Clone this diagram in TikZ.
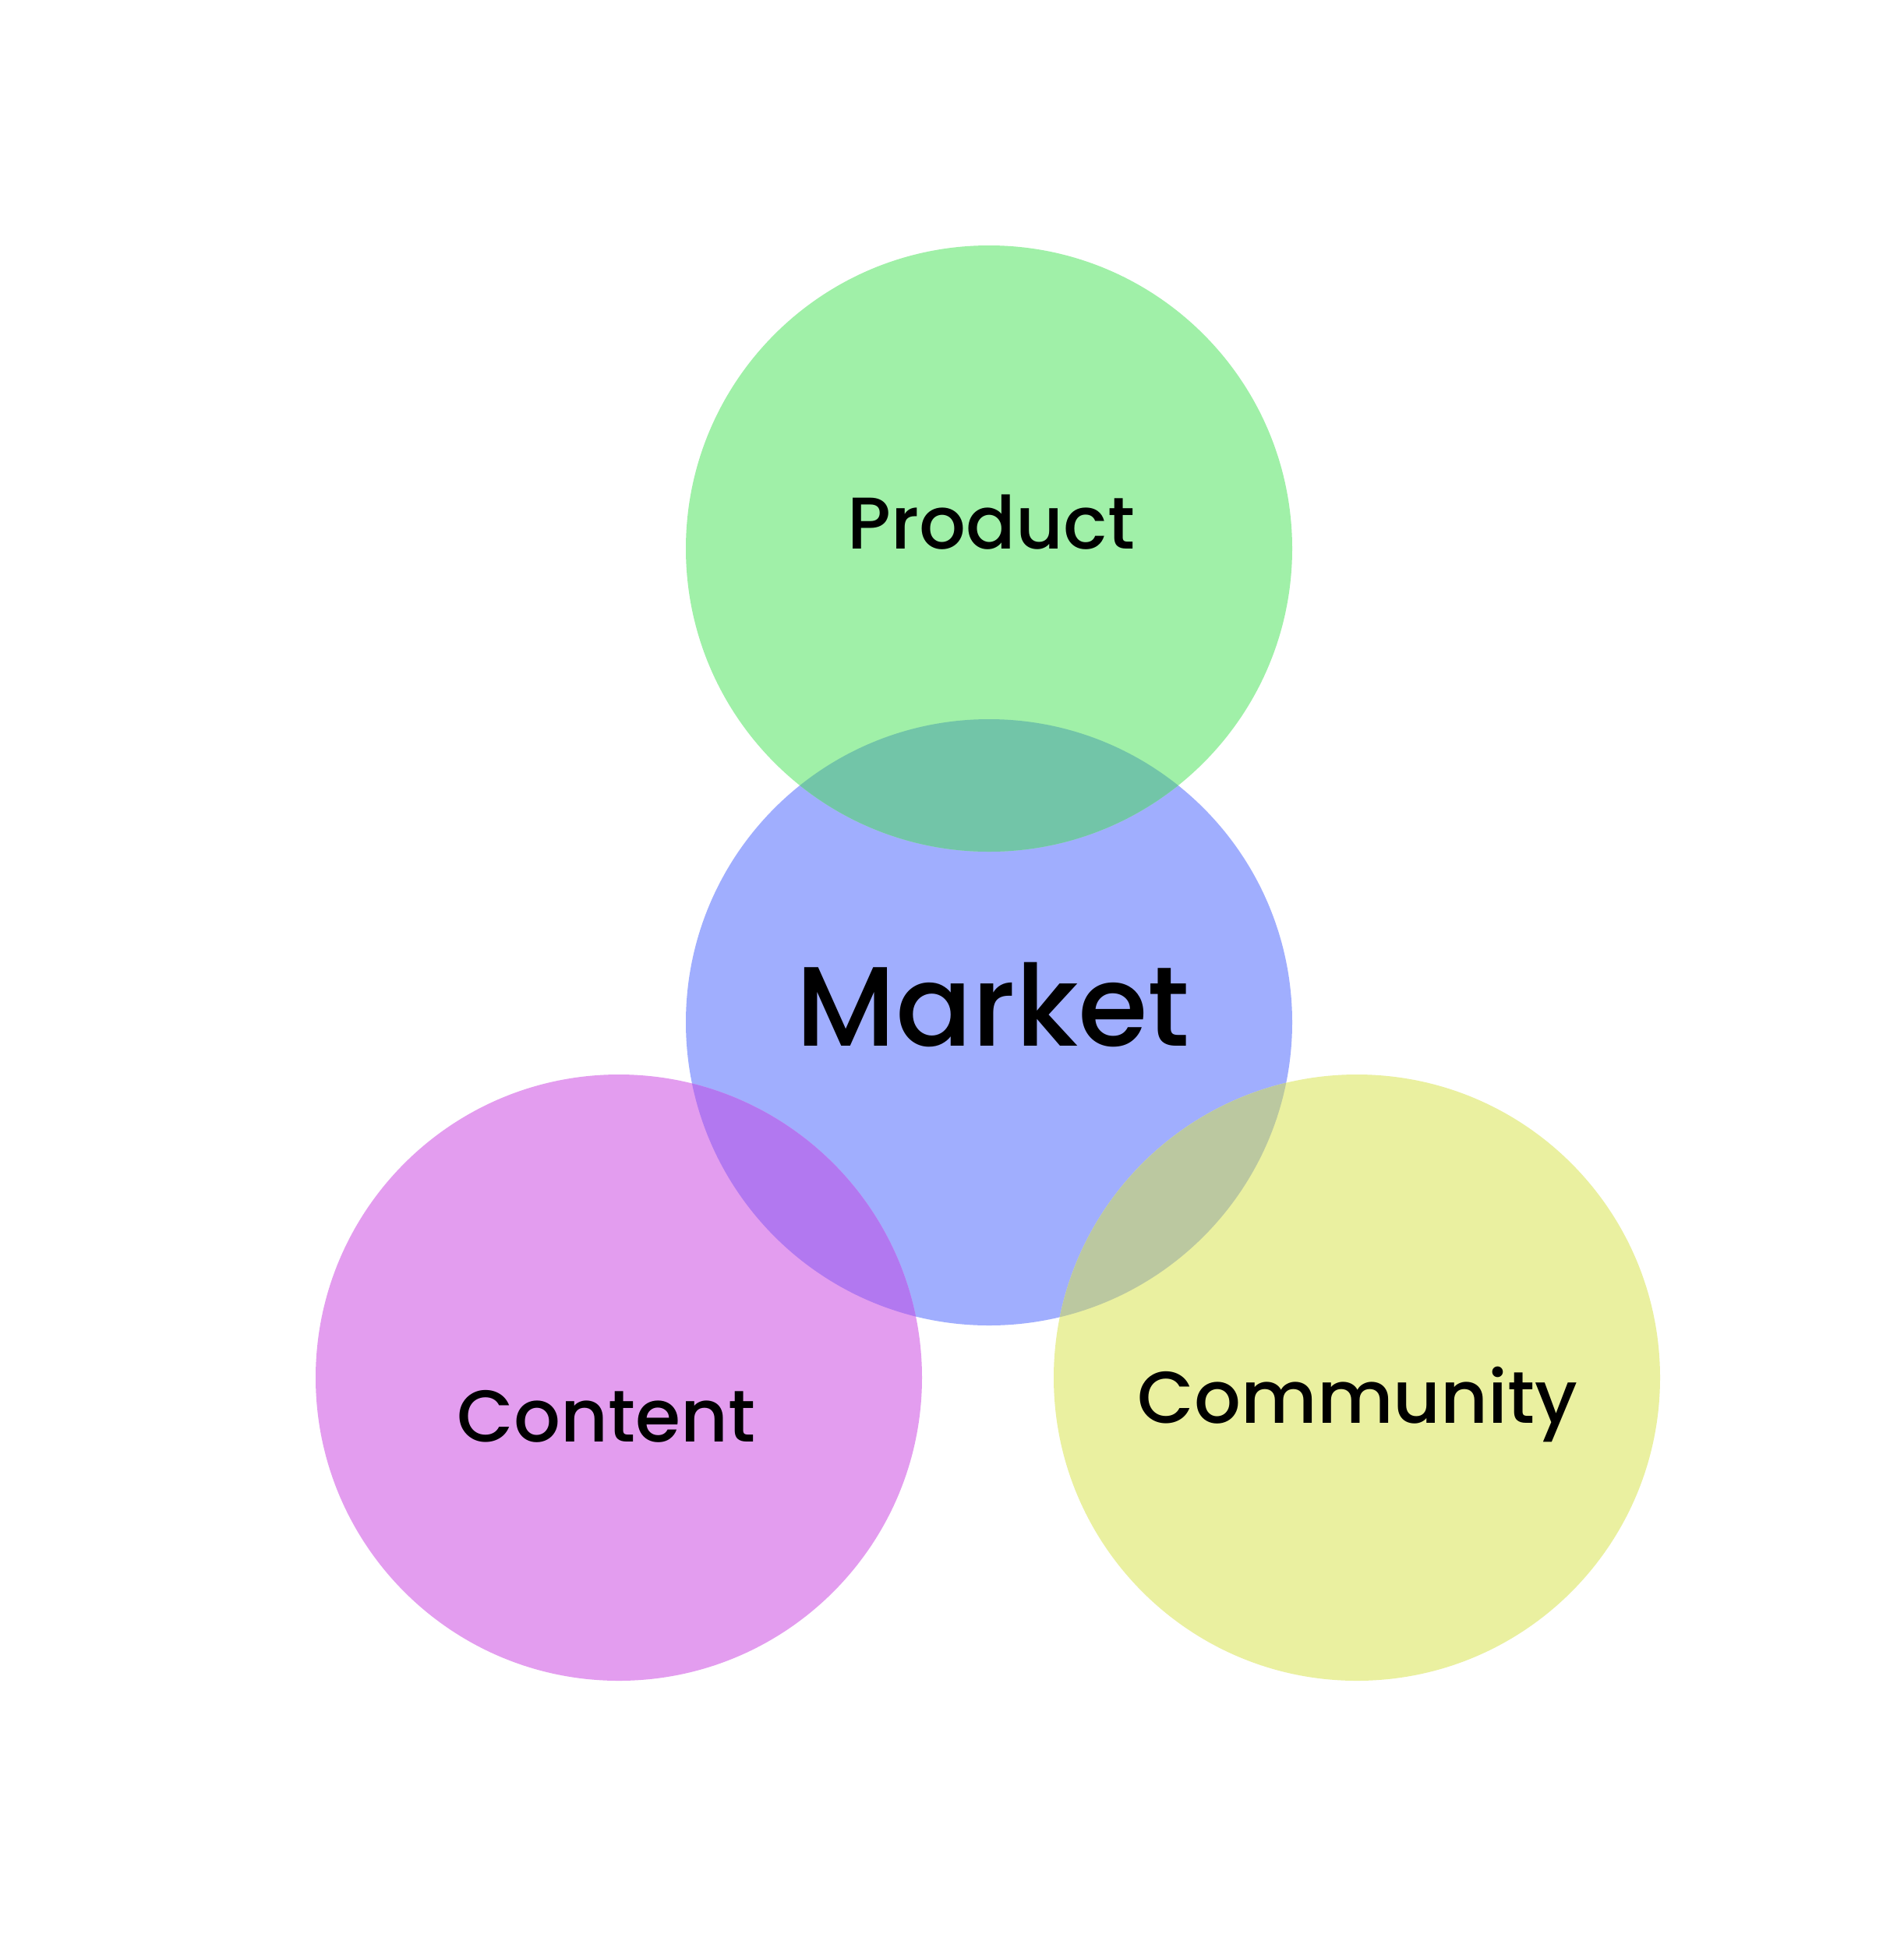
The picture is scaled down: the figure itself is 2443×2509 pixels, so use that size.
\documentclass[tikz,border=0pt]{standalone}
\usepackage{fontspec}
\setmainfont{Poppins Medium}
\definecolor{cMarket}{RGB}{160,174,254}
\definecolor{cProduct}{RGB}{160,240,168}
\definecolor{cContent}{RGB}{227,157,239}
\definecolor{cCommunity}{RGB}{234,240,160}
\definecolor{cPM}{RGB}{114,197,168}
\definecolor{cCM}{RGB}{178,120,240}
\definecolor{cYM}{RGB}{187,200,160}
\tikzset{
  lbl/.style={anchor=base, inner sep=0pt, text=black},
  small/.style={lbl, font=\fontsize{94}{114}\selectfont},
  big/.style={lbl, font=\fontsize{145}{175}\selectfont},
}
\begin{document}
\begin{tikzpicture}[x=1pt,y=-1pt]
\useasboundingbox[fill=white] (0,0) rectangle (2443,2509);
\def\R{389}
\coordinate (pm) at (1269,704);
\coordinate (mm) at (1269,1312);
\coordinate (cm) at (794,1768);
\coordinate (ym) at (1741,1768);
\fill[cMarket] (mm) circle (\R);
\fill[cProduct] (pm) circle (\R);
\fill[cContent] (cm) circle (\R);
\fill[cCommunity] (ym) circle (\R);
\begin{scope}
  \clip (mm) circle (\R);
  \fill[cPM] (pm) circle (\R);
\end{scope}
\begin{scope}
  \clip (mm) circle (\R);
  \fill[cCM] (cm) circle (\R);
\end{scope}
\begin{scope}
  \clip (mm) circle (\R);
  \fill[cYM] (ym) circle (\R);
\end{scope}
\node[small] (product) at (1272,704) {Product};
\node[big] (market) at (1274,1342) {Market};
\node[small] (content) at (778,1850) {Content};
\node[small] (community) at (1742,1826) {Community};
\end{tikzpicture}
\end{document}
